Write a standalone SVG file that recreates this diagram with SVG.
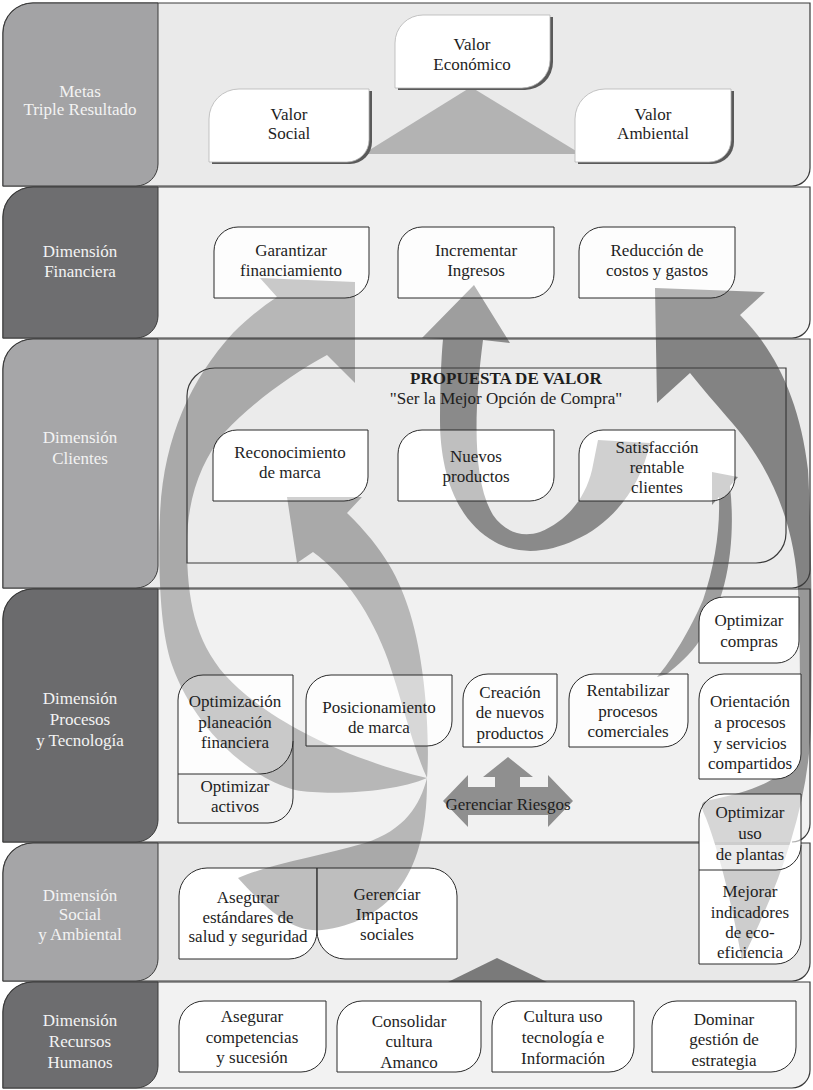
<svg xmlns="http://www.w3.org/2000/svg" width="813" height="1090" viewBox="0 0 813 1090">
<style>
.t{font-family:"Liberation Serif","Times New Roman",serif;font-size:17px;fill:#1e1e1e;text-anchor:middle}
.l{fill:#f3f3f3}
.b{font-weight:bold}
.bo{fill:none;stroke:#3a3a3a;stroke-width:1.2}
.lab{stroke:#3a3a3a;stroke-width:1}
.base{fill:#fff}
.n{fill:#fff;fill-opacity:.25;stroke:#2b2b2b;stroke-width:1}
.n2{fill:#fff;fill-opacity:.45;stroke:#2b2b2b;stroke-width:1}
.n3{fill:#fff;fill-opacity:.6;stroke:#2b2b2b;stroke-width:1}
.no{fill:#fff;stroke:#2b2b2b;stroke-width:1}
.v1{fill:#fff;stroke:#b5b5b5;stroke-width:.8}
.sh{fill:#5a5a5a}
.veil{fill:#f2f2f2;fill-opacity:.2}
.a1{fill:#a9a9a9}
.a2{fill:#8a8a8a}
.a3{fill:#838383}
</style>

<!-- band fills -->
<g id="band-fills">
<path d="M33,3 H810 V168 A18,18 0 0 1 792,186 H3 V33 A30,30 0 0 1 33,3 Z" fill="#eaeaea"/>
<path d="M33,187 H810 V320 A18,18 0 0 1 792,338 H3 V217 A30,30 0 0 1 33,187 Z" fill="#f2f2f2"/>
<path d="M33,339 H810 V570 A18,18 0 0 1 792,588 H3 V369 A30,30 0 0 1 33,339 Z" fill="#ebebeb"/>
<path d="M33,589 H810 V824 A18,18 0 0 1 792,842 H3 V619 A30,30 0 0 1 33,589 Z" fill="#f2f2f2"/>
<path d="M33,843 H810 V963 A18,18 0 0 1 792,981 H3 V873 A30,30 0 0 1 33,843 Z" fill="#e8e8e8"/>
<path d="M33,982 H810 V1070 A18,18 0 0 1 792,1088 H3 V1012 A30,30 0 0 1 33,982 Z" fill="#f2f2f2"/>
</g>

<!-- white backings of nodes that arrows run over -->
<g id="node-backings">
<path class="base" d="M238,227 H369 V274 A24,24 0 0 1 345,298 H214 V251 A24,24 0 0 1 238,227 Z"/>
<path class="base" d="M422,227 H554 V274 A24,24 0 0 1 530,298 H398 V251 A24,24 0 0 1 422,227 Z"/>
<path class="base" d="M603,227 H735 V274 A24,24 0 0 1 711,298 H579 V251 A24,24 0 0 1 603,227 Z"/>
<path class="base" d="M237,430 H368 V477 A24,24 0 0 1 344,501 H213 V454 A24,24 0 0 1 237,430 Z"/>
<path class="base" d="M422,430 H554 V477 A24,24 0 0 1 530,501 H398 V454 A24,24 0 0 1 422,430 Z"/>
<path class="base" d="M603,430 H735 V477 A24,24 0 0 1 711,501 H579 V454 A24,24 0 0 1 603,430 Z"/>
<path class="base" d="M203,675 H293 V741 A33,33 0 0 1 260,774 H178 V700 A25,25 0 0 1 203,675 Z"/>
<path class="base" d="M331,675 H452 V721 A25,25 0 0 1 427,746 H306 V700 A25,25 0 0 1 331,675 Z"/>
<path class="base" d="M488,674 H557 V722 A25,25 0 0 1 532,747 H463 V699 A25,25 0 0 1 488,674 Z"/>
<path class="base" d="M594,674 H688 V722 A25,25 0 0 1 663,747 H569 V699 A25,25 0 0 1 594,674 Z"/>
<path class="base" d="M699,845 H801 V939 A25,25 0 0 1 776,964 H699 Z"/>
<path class="base" d="M724,794 H801 V845 A25,25 0 0 1 776,870 H699 V819 A25,25 0 0 1 724,794 Z"/>
<path class="base" d="M207,868 H317 V931 A28,28 0 0 1 289,959 H179 V896 A28,28 0 0 1 207,868 Z"/>
<path class="base" d="M317,868 H429 A28,28 0 0 1 457,896 V959 H345 A28,28 0 0 1 317,931 Z"/>
</g>

<!-- decorative triangles -->
<g id="triangles">
<polygon points="471,87 581,154 363,154" fill="#b3b3b3"/>
<polygon points="497,958 547,982 448,982" fill="#7a7a7a"/>
</g>

<!-- connectors -->
<g id="connectors">
<path id="arrow-garantizar" class="a1" d="M427,778 C395,792 330,796 295,790 C250,778 195,730 172,665 C160,630 158,570 160,515 C163,440 190,380 233,333 C248,318 262,307 277,297 L260,278 L355,282 L355,383 L327,355 C290,375 250,405 225,432 C200,462 187,500 187,545 C187,600 195,640 225,675 C258,712 330,755 427,778 Z"/>
<path id="arrow-reconocimiento" class="a1" d="M427,778 C430,740 426,665 410,613 C400,580 385,550 347,513 L362,497 L287,497 L297,563 L313,552 C345,575 372,615 388,660 C402,700 412,745 427,778 C420,805 405,830 365,843 C320,856 270,864 238,878 C262,905 292,934 322,930 C385,922 428,880 427,778 Z"/>
<path id="arrow-ingresos" class="a2" d="M443,339 L422,338 L474,285 L510,343 L483,340 C474,410 472,480 493,515 C505,532 522,538 540,532 C565,522 585,500 592,470 L598,440 L650,443 C640,490 610,525 575,540 C550,552 520,556 495,542 C455,520 440,470 440,420 C440,390 441,360 443,339 Z"/>
<path id="arrow-costos" class="a3" d="M655,288 L765,292 L740,315 C775,350 800,400 808,470 C812,540 812,640 811,720 C810,800 782,880 742,960 C735,920 722,860 706,818 C700,806 700,802 710,800 C750,792 785,780 795,755 C802,720 800,640 798,590 C795,530 775,470 727,417 C715,403 702,388 690,373 L657,403 Z"/>
<path id="arrow-satisfaccion" class="a2" d="M712,472 L738,477 L730,486 C736,540 728,600 700,640 C690,655 678,665 667,674 L657,677 C672,660 690,630 703,600 C715,565 720,530 719,497 L712,505 Z"/>
</g>

<!-- veils over bands 2 and 4 -->
<g id="veils">
<path class="veil" d="M158,187 H810 V320 A18,18 0 0 1 792,338 H158 Z"/>
<path class="veil" d="M158,589 H810 V824 A18,18 0 0 1 792,842 H158 Z"/>
</g>

<!-- band outlines and label columns -->
<g id="bands">
<path class="bo" d="M33,3 H810 V168 A18,18 0 0 1 792,186 H3 V33 A30,30 0 0 1 33,3 Z"/>
<path class="bo" d="M33,187 H810 V320 A18,18 0 0 1 792,338 H3 V217 A30,30 0 0 1 33,187 Z"/>
<path class="bo" d="M33,339 H810 V570 A18,18 0 0 1 792,588 H3 V369 A30,30 0 0 1 33,339 Z"/>
<path class="bo" d="M699,842 H3 V619 A30,30 0 0 1 33,589 H810 V824 A18,18 0 0 1 792,842"/>
<path class="bo" d="M699,843 H33 A30,30 0 0 0 3,873 V981 H792 A18,18 0 0 0 810,963 V843 H801"/>
<path class="bo" d="M33,982 H810 V1070 A18,18 0 0 1 792,1088 H3 V1012 A30,30 0 0 1 33,982 Z"/>
<path class="lab" fill="#a3a3a5" d="M33,3 H158 V164 A22,22 0 0 1 136,186 H3 V33 A30,30 0 0 1 33,3 Z"/>
<path class="lab" fill="#6e6e70" d="M33,187 H158 V316 A22,22 0 0 1 136,338 H3 V217 A30,30 0 0 1 33,187 Z"/>
<path class="lab" fill="#a6a6a8" d="M33,339 H158 V566 A22,22 0 0 1 136,588 H3 V369 A30,30 0 0 1 33,339 Z"/>
<path class="lab" fill="#6b6b6d" d="M33,589 H158 V820 A22,22 0 0 1 136,842 H3 V619 A30,30 0 0 1 33,589 Z"/>
<path class="lab" fill="#a5a5a7" d="M33,843 H158 V959 A22,22 0 0 1 136,981 H3 V873 A30,30 0 0 1 33,843 Z"/>
<path class="lab" fill="#6d6d6f" d="M33,982 H158 V1066 A22,22 0 0 1 136,1088 H3 V1012 A30,30 0 0 1 33,982 Z"/>
<text class="t l"><tspan x="80" y="97">Metas</tspan><tspan x="80" y="115">Triple Resultado</tspan></text>
<text class="t l"><tspan x="80" y="257">Dimensión</tspan><tspan x="80" y="277">Financiera</tspan></text>
<text class="t l"><tspan x="80" y="443">Dimensión</tspan><tspan x="80" y="464">Clientes</tspan></text>
<text class="t l"><tspan x="80" y="704">Dimensión</tspan><tspan x="80" y="725">Procesos</tspan><tspan x="80" y="746">y Tecnología</tspan></text>
<text class="t l"><tspan x="80" y="901">Dimensión</tspan><tspan x="80" y="920">Social</tspan><tspan x="80" y="940">y Ambiental</tspan></text>
<text class="t l"><tspan x="80" y="1026">Dimensión</tspan><tspan x="80" y="1047">Recursos</tspan><tspan x="80" y="1068">Humanos</tspan></text>
</g>

<!-- Band 1 nodes -->
<g id="valor-economico">
<path class="sh" transform="translate(3,2)" d="M423,15 H550 V60 A28,28 0 0 1 522,88 H395 V43 A28,28 0 0 1 423,15 Z"/>
<path class="v1" d="M423,15 H550 V60 A28,28 0 0 1 522,88 H395 V43 A28,28 0 0 1 423,15 Z"/>
<text class="t"><tspan x="472" y="50">Valor</tspan><tspan x="472" y="70">Económico</tspan></text>
</g>
<g id="valor-social">
<path class="sh" transform="translate(3,2)" d="M239,89 H369 V140 A22,22 0 0 1 347,162 H209 V119 A30,30 0 0 1 239,89 Z"/>
<path class="v1" d="M239,89 H369 V140 A22,22 0 0 1 347,162 H209 V119 A30,30 0 0 1 239,89 Z"/>
<text class="t"><tspan x="289" y="120">Valor</tspan><tspan x="289" y="139">Social</tspan></text>
</g>
<g id="valor-ambiental">
<path class="sh" transform="translate(3,2)" d="M605,89 H731 V140 A22,22 0 0 1 709,162 H575 V119 A30,30 0 0 1 605,89 Z"/>
<path class="v1" d="M605,89 H731 V140 A22,22 0 0 1 709,162 H575 V119 A30,30 0 0 1 605,89 Z"/>
<text class="t"><tspan x="653" y="120">Valor</tspan><tspan x="653" y="139">Ambiental</tspan></text>
</g>

<!-- Band 2 nodes -->
<g id="garantizar">
<path class="n" d="M238,227 H369 V274 A24,24 0 0 1 345,298 H214 V251 A24,24 0 0 1 238,227 Z"/>
<text class="t"><tspan x="291" y="256">Garantizar</tspan><tspan x="291" y="276">financiamiento</tspan></text>
</g>
<g id="incrementar">
<path class="n" d="M422,227 H554 V274 A24,24 0 0 1 530,298 H398 V251 A24,24 0 0 1 422,227 Z"/>
<text class="t"><tspan x="476" y="256">Incrementar</tspan><tspan x="476" y="276">Ingresos</tspan></text>
</g>
<g id="reduccion">
<path class="n" d="M603,227 H735 V274 A24,24 0 0 1 711,298 H579 V251 A24,24 0 0 1 603,227 Z"/>
<text class="t"><tspan x="657" y="256">Reducción de</tspan><tspan x="657" y="276">costos y gastos</tspan></text>
</g>

<!-- Band 3 -->
<g id="propuesta">
<path fill="none" stroke="#3a3a3a" stroke-width="1.2" d="M215,368 H786 V533 A30,30 0 0 1 756,563 H187 V396 A28,28 0 0 1 215,368 Z"/>
<text class="t b" x="506" y="384">PROPUESTA DE VALOR</text>
<text class="t" x="506" y="404">"Ser la Mejor Opción de Compra"</text>
</g>
<g id="reconocimiento">
<path class="n2" d="M237,430 H368 V477 A24,24 0 0 1 344,501 H213 V454 A24,24 0 0 1 237,430 Z"/>
<text class="t"><tspan x="290" y="458">Reconocimiento</tspan><tspan x="290" y="478">de marca</tspan></text>
</g>
<g id="nuevos">
<path class="n2" d="M422,430 H554 V477 A24,24 0 0 1 530,501 H398 V454 A24,24 0 0 1 422,430 Z"/>
<text class="t"><tspan x="476" y="462">Nuevos</tspan><tspan x="476" y="482">productos</tspan></text>
</g>
<g id="satisfaccion">
<path class="n3" d="M603,430 H735 V477 A24,24 0 0 1 711,501 H579 V454 A24,24 0 0 1 603,430 Z"/>
<text class="t"><tspan x="657" y="453">Satisfacción</tspan><tspan x="657" y="473">rentable</tspan><tspan x="657" y="493">clientes</tspan></text>
</g>

<!-- Band 4 -->
<g id="optimizar-activos">
<path fill="none" stroke="#2b2b2b" stroke-width="1" d="M293,741 V798 A25,25 0 0 1 268,823 H178 V774"/>
<text class="t"><tspan x="235" y="792">Optimizar</tspan><tspan x="235" y="812">activos</tspan></text>
</g>
<g id="optimizacion">
<path class="n" d="M203,675 H293 V741 A33,33 0 0 1 260,774 H178 V700 A25,25 0 0 1 203,675 Z"/>
<text class="t"><tspan x="235" y="707">Optimización</tspan><tspan x="235" y="728">planeación</tspan><tspan x="235" y="748">financiera</tspan></text>
</g>
<g id="posicionamiento">
<path class="n2" d="M331,675 H452 V721 A25,25 0 0 1 427,746 H306 V700 A25,25 0 0 1 331,675 Z"/>
<text class="t"><tspan x="379" y="713">Posicionamiento</tspan><tspan x="379" y="733">de marca</tspan></text>
</g>
<g id="creacion">
<path class="n" d="M488,674 H557 V722 A25,25 0 0 1 532,747 H463 V699 A25,25 0 0 1 488,674 Z"/>
<text class="t"><tspan x="510" y="698">Creación</tspan><tspan x="510" y="718">de nuevos</tspan><tspan x="510" y="739">productos</tspan></text>
</g>
<g id="rentabilizar">
<path class="n" d="M594,674 H688 V722 A25,25 0 0 1 663,747 H569 V699 A25,25 0 0 1 594,674 Z"/>
<text class="t"><tspan x="628" y="696">Rentabilizar</tspan><tspan x="628" y="717">procesos</tspan><tspan x="628" y="737">comerciales</tspan></text>
</g>
<g id="optimizar-compras">
<path class="no" d="M724,597 H799 V641 A22,22 0 0 1 777,663 H699 V622 A25,25 0 0 1 724,597 Z"/>
<text class="t"><tspan x="749" y="626">Optimizar</tspan><tspan x="749" y="647">compras</tspan></text>
</g>
<g id="orientacion">
<path class="no" d="M724,674 H801 V754 A25,25 0 0 1 776,779 H699 V699 A25,25 0 0 1 724,674 Z"/>
<text class="t"><tspan x="750" y="707">Orientación</tspan><tspan x="750" y="728">a procesos</tspan><tspan x="750" y="749">y servicios</tspan><tspan x="750" y="769">compartidos</tspan></text>
</g>
<g id="gerenciar-riesgos">
<polygon fill="#8f8f8f" points="508,757 533,777 520,777 520,787 548,787 548,775 573,801 548,827 548,815 468,815 468,827 443,801 468,775 468,787 495,787 495,777 483,777"/>
<text class="t" x="508" y="810" fill="#2a2a2a">Gerenciar Riesgos</text>
</g>
<g id="mejorar">
<path fill="#fff" fill-opacity=".6" d="M699,845 H801 V939 A25,25 0 0 1 776,964 H699 Z"/>
<path fill="none" stroke="#2b2b2b" stroke-width="1" d="M801,845 V939 A25,25 0 0 1 776,964 H699 V870"/>
<text class="t"><tspan x="750" y="897">Mejorar</tspan><tspan x="750" y="918">indicadores</tspan><tspan x="750" y="938">de eco-</tspan><tspan x="750" y="958">eficiencia</tspan></text>
</g>
<g id="optimizar-uso">
<path class="n3" d="M724,794 H801 V845 A25,25 0 0 1 776,870 H699 V819 A25,25 0 0 1 724,794 Z"/>
<text class="t"><tspan x="750" y="818">Optimizar</tspan><tspan x="750" y="839">uso</tspan><tspan x="750" y="860">de plantas</tspan></text>
</g>

<!-- Band 5 -->
<g id="asegurar-estandares">
<path class="n" d="M207,868 H317 V931 A28,28 0 0 1 289,959 H179 V896 A28,28 0 0 1 207,868 Z"/>
<text class="t"><tspan x="248" y="903">Asegurar</tspan><tspan x="248" y="923">estándares de</tspan><tspan x="248" y="942">salud y seguridad</tspan></text>
</g>
<g id="gerenciar-impactos">
<path class="n" d="M317,868 H429 A28,28 0 0 1 457,896 V959 H345 A28,28 0 0 1 317,931 Z"/>
<text class="t"><tspan x="387" y="900">Gerenciar</tspan><tspan x="387" y="920">Impactos</tspan><tspan x="387" y="940">sociales</tspan></text>
</g>

<!-- Band 6 -->
<g id="asegurar-competencias">
<path class="no" d="M204,1001 H326 V1047 A25,25 0 0 1 301,1072 H179 V1026 A25,25 0 0 1 204,1001 Z"/>
<text class="t"><tspan x="252" y="1022">Asegurar</tspan><tspan x="252" y="1043">competencias</tspan><tspan x="252" y="1063">y sucesión</tspan></text>
</g>
<g id="consolidar">
<path class="no" d="M362,1001 H481 V1047 A25,25 0 0 1 456,1072 H337 V1026 A25,25 0 0 1 362,1001 Z"/>
<text class="t"><tspan x="409" y="1027">Consolidar</tspan><tspan x="409" y="1047">cultura</tspan><tspan x="409" y="1068">Amanco</tspan></text>
</g>
<g id="cultura">
<path class="no" d="M517,1001 H634 V1047 A25,25 0 0 1 609,1072 H492 V1026 A25,25 0 0 1 517,1001 Z"/>
<text class="t"><tspan x="563" y="1022">Cultura uso</tspan><tspan x="563" y="1043">tecnología e</tspan><tspan x="563" y="1064">Información</tspan></text>
</g>
<g id="dominar">
<path class="no" d="M677,1001 H796 V1047 A25,25 0 0 1 771,1072 H652 V1026 A25,25 0 0 1 677,1001 Z"/>
<text class="t"><tspan x="724" y="1025">Dominar</tspan><tspan x="724" y="1045">gestión de</tspan><tspan x="724" y="1066">estrategia</tspan></text>
</g>
</svg>
